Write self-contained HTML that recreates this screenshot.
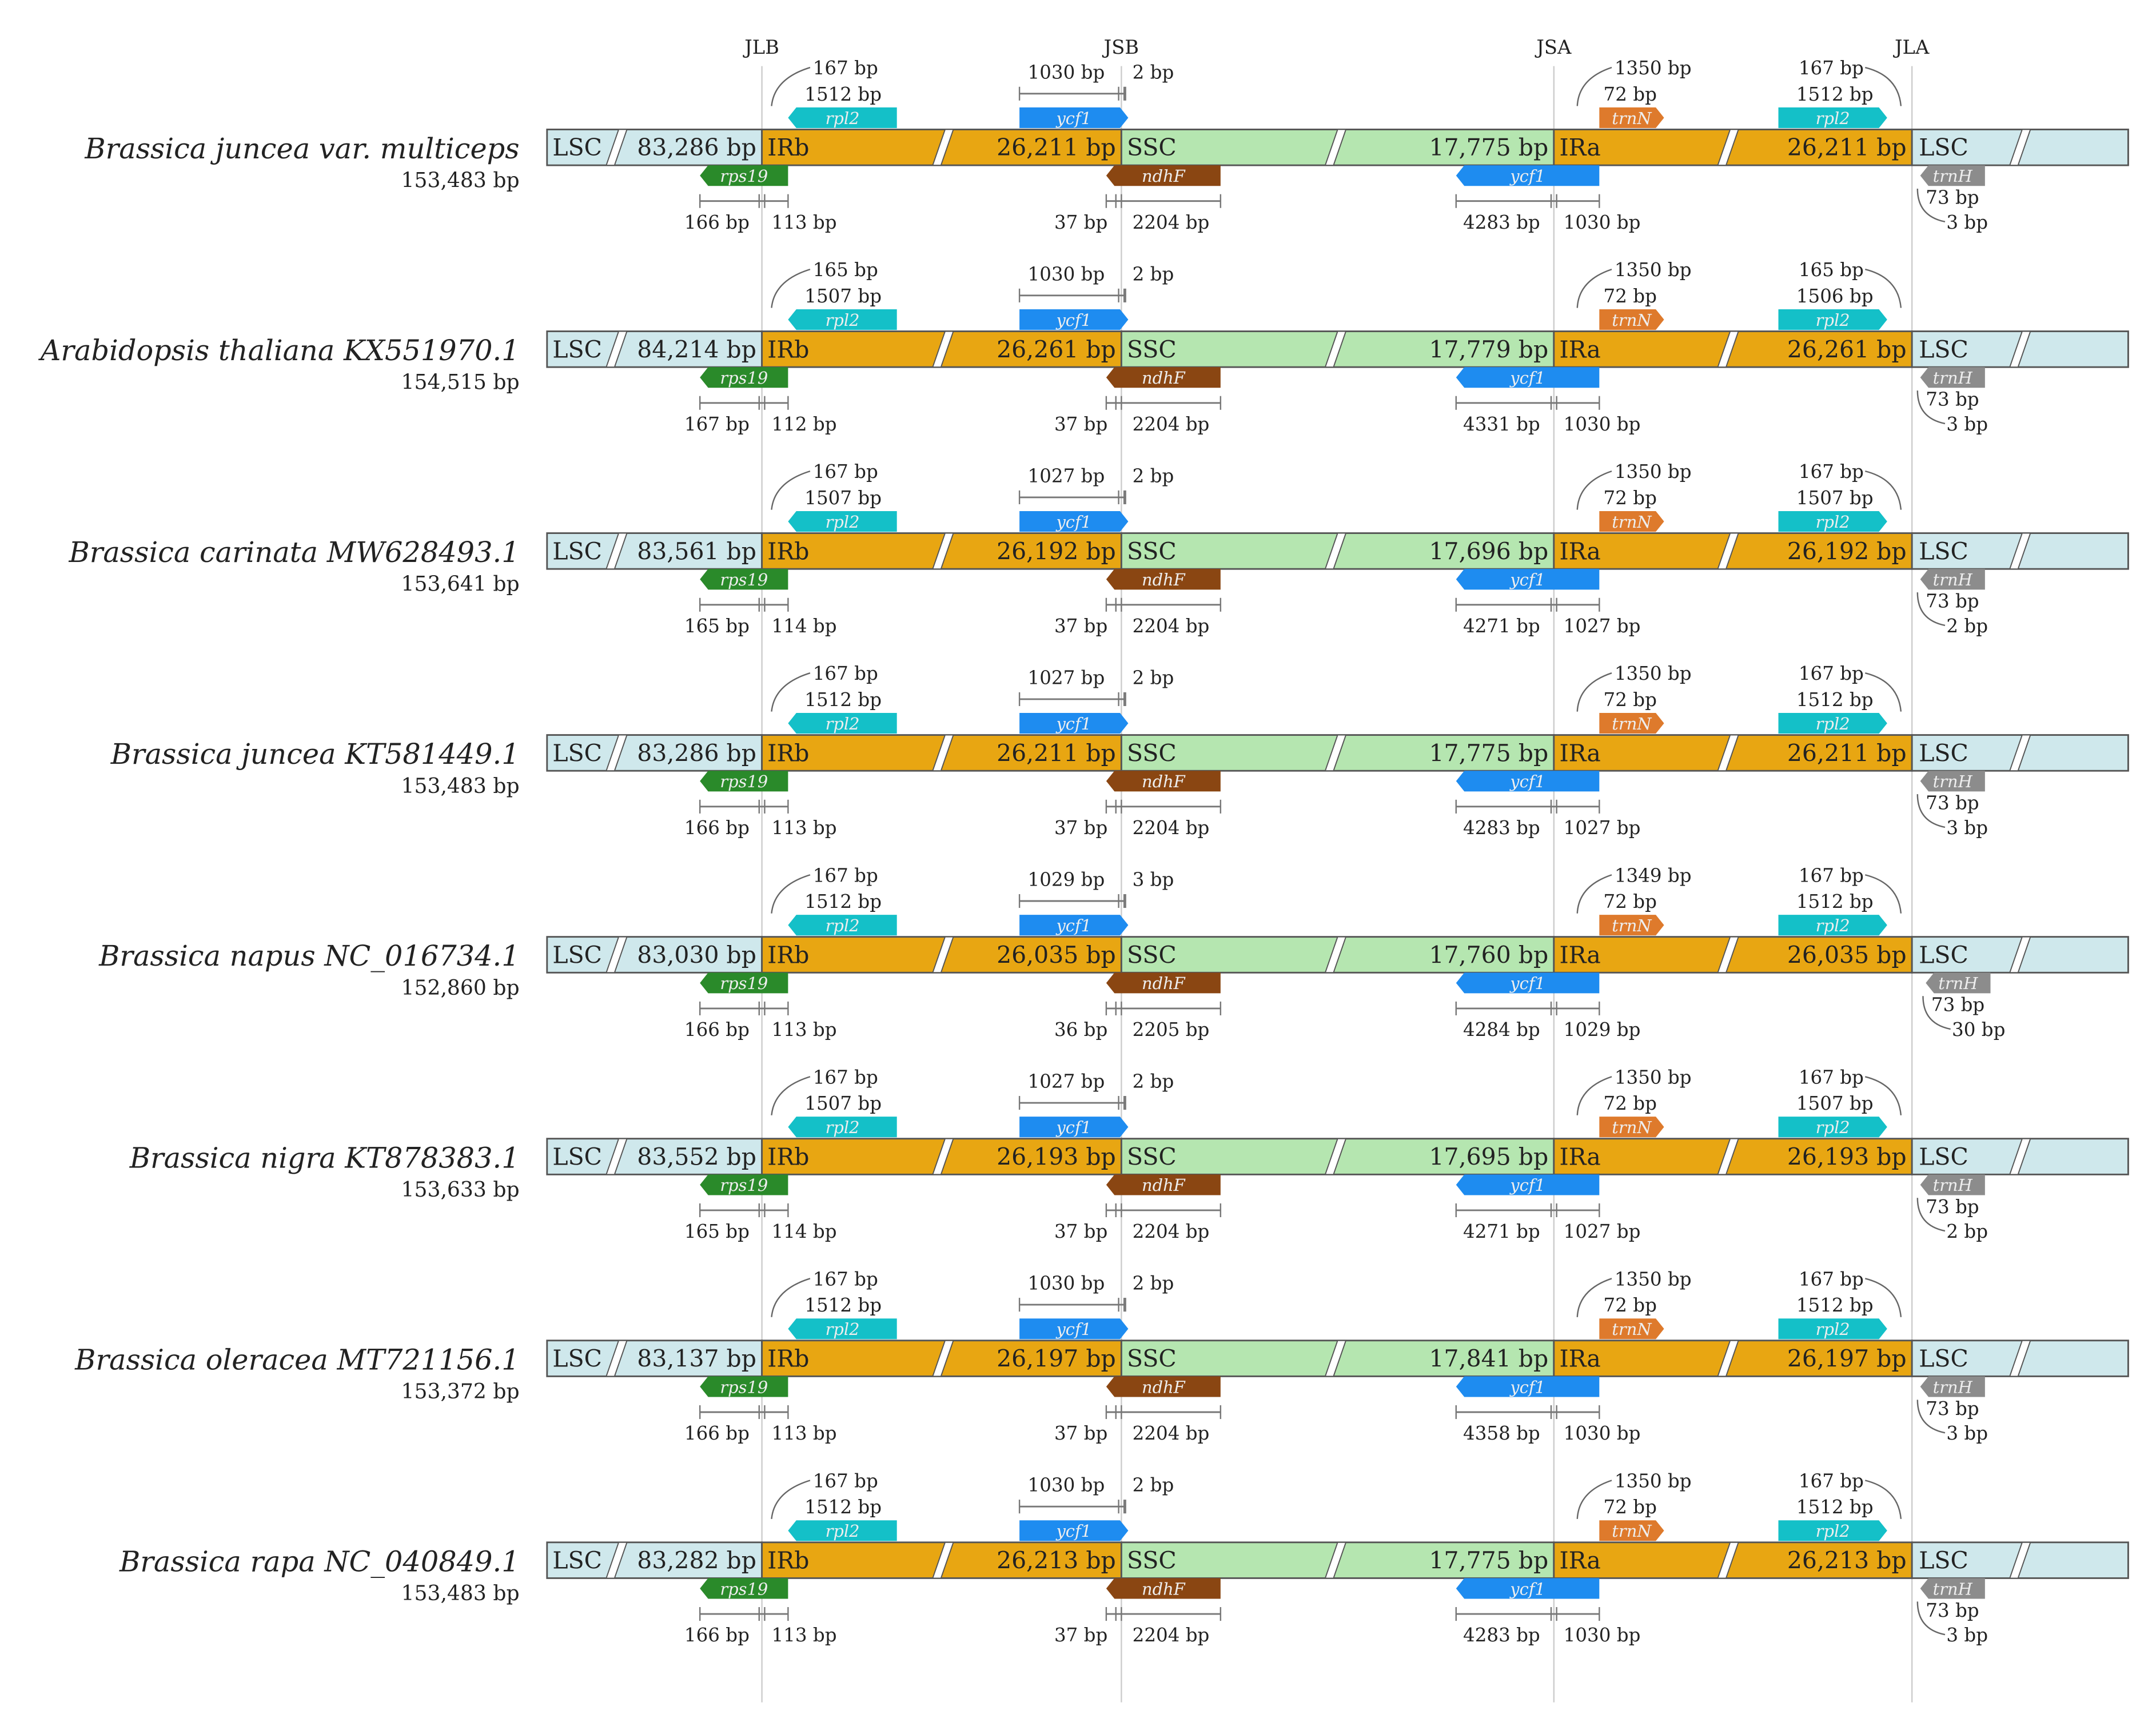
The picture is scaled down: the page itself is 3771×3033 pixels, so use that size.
<!DOCTYPE html>
<html><head><meta charset="utf-8"><style>
html,body{margin:0;padding:0;background:#fff}
svg{display:block}
text{font-family:"DejaVu Serif","Liberation Serif",serif;fill:#222}
</style></head><body>
<svg id="chart" width="3771" height="3033" viewBox="0 0 1565 1259" xmlns="http://www.w3.org/2000/svg"></svg>
<script>
const names=["Brassica juncea var. multiceps","Arabidopsis thaliana KX551970.1","Brassica carinata MW628493.1","Brassica juncea KT581449.1","Brassica napus NC_016734.1","Brassica nigra KT878383.1","Brassica oleracea MT721156.1","Brassica rapa NC_040849.1"];
const totals=["153,483","154,515","153,641","153,483","152,860","153,633","153,372","153,483"];
const lscLen=["83,286","84,214","83,561","83,286","83,030","83,552","83,137","83,282"];
const irLen=["26,211","26,261","26,192","26,211","26,035","26,193","26,197","26,213"];
const sscLen=["17,775","17,779","17,696","17,775","17,760","17,695","17,841","17,775"];
const rpl2bOut=[167,165,167,167,167,167,167,167];
const rpl2bLen=[1512,1507,1507,1512,1512,1507,1512,1512];
const ycf1bIn=[1030,1030,1027,1027,1029,1027,1030,1030];
const ycf1bOut=[2,2,2,2,3,2,2,2];
const rps19L=[166,167,165,166,166,165,166,166];
const rps19R=[113,112,114,113,113,114,113,113];
const ndhFL=[37,37,37,37,36,37,37,37];
const ndhFR=[2204,2204,2204,2204,2205,2204,2204,2204];
const ycf1aL=[4283,4331,4271,4283,4284,4271,4358,4283];
const ycf1aR=[1030,1030,1027,1027,1029,1027,1030,1030];
const trnNDist=[1350,1350,1350,1350,1349,1350,1350,1350];
const trnNIn=[72,72,72,72,72,72,72,72];
const rpl2aOut=[167,165,167,167,167,167,167,167];
const rpl2aLen=[1512,1506,1507,1512,1512,1507,1512,1512];
const trnHLen=[73,73,73,73,73,73,73,73];
const trnHDist=[3,3,2,3,30,2,3,3];
const junctions=["JLB","JSB","JSA","JLA"];

const svg=document.getElementById('chart');
const NS="http://www.w3.org/2000/svg";
function el(tag,attrs,parent){const e=document.createElementNS(NS,tag);for(const k in attrs)e.setAttribute(k,attrs[k]);(parent||svg).appendChild(e);return e;}
function txt(x,y,s,attrs,parent){const t=el('text',Object.assign({x:x,y:y},attrs||{}),parent);t.textContent=s;return t;}
const X0=397,X1=1545,JX=[553,814,1128,1388];
const rowY=i=>107+i*146.55;

JX.forEach((x,k)=>{
  const l=el('line',{x1:x,y1:48,x2:x,y2:1236,stroke:'#ccc','stroke-width':1});
  
  
  const t=txt(x,39,junctions[k],{'font-size':14,'text-anchor':'middle'});
  
  
});

function gene(x1,x2,y,dir,color,label,name,g){
  const h=15,p=6;let pts;
  if(dir<0)pts=`${x1},${y+h/2} ${x1+p},${y} ${x2},${y} ${x2},${y+h} ${x1+p},${y+h}`;
  else pts=`${x1},${y} ${x2-p},${y} ${x2},${y+h/2} ${x2-p},${y+h} ${x1},${y+h}`;
  const gg=el('g',{},g);
  
  
  el('polygon',{points:pts,fill:color},gg);
  txt((x1+x2)/2,y+12,label,{'font-size':12,'font-style':'italic','text-anchor':'middle',style:'fill:#eee'},gg);
}
function bracket(x1,xm,x2,y,g){
  el('line',{x1:x1,y1:y,x2:x2,y2:y,stroke:'#777','stroke-width':1.2},g);
  [x1,x2].forEach(x=>el('line',{x1:x,y1:y-5,x2:x,y2:y+5,stroke:'#777','stroke-width':1},g));
  el('line',{x1:xm-2,y1:y-5,x2:xm-2,y2:y+5,stroke:'#777','stroke-width':1},g);
  el('line',{x1:xm+2,y1:y-5,x2:xm+2,y2:y+5,stroke:'#777','stroke-width':1},g);
}
function slash(x,y,g){el('polygon',{points:`${x-3},${y+13} ${x+6},${y-13} ${x+12},${y-13} ${x+3},${y+13}`,fill:'#fff',stroke:'#555','stroke-width':0.8},g);}
function arc(d,g){el('path',{d:d,fill:'none',stroke:'#666','stroke-width':1},g);}

names.forEach((nm,i)=>{
  const y=rowY(i),top=y-13;
  const g=el('g',{});
  
  
  const n=txt(377,y+8,nm,{'font-size':20.5,'font-style':'italic','text-anchor':'end'},g);
  
  
  const tb=txt(377,y+29,totals[i]+' bp',{'font-size':15,'text-anchor':'end'},g);
  
  
  const segs=[[X0,JX[0],'#cfe8ec','lsc'],[JX[0],JX[1],'#e8a612','irb'],[JX[1],JX[2],'#b5e6b0','ssc'],[JX[2],JX[3],'#e8a612','ira'],[JX[3],X1,'#cfe8ec','lsc-right']];
  segs.forEach(s=>{
    const r=el('rect',{x:s[0],y:top,width:s[1]-s[0],height:26,fill:s[2],stroke:'#555','stroke-width':1.2},g);
    
    
  });
  [443,680,965,1250,1462].forEach(x=>slash(x,y,g));
  const fs={'font-size':17};
  txt(401,y+6,'LSC',fs,g);
  txt(549,y+6,lscLen[i]+' bp',Object.assign({'text-anchor':'end'},fs),g);
  txt(557,y+6,'IRb',fs,g);
  txt(810,y+6,irLen[i]+' bp',Object.assign({'text-anchor':'end'},fs),g);
  txt(818,y+6,'SSC',fs,g);
  txt(1124,y+6,sscLen[i]+' bp',Object.assign({'text-anchor':'end'},fs),g);
  txt(1132,y+6,'IRa',fs,g);
  txt(1384,y+6,irLen[i]+' bp',Object.assign({'text-anchor':'end'},fs),g);
  txt(1393,y+6,'LSC',fs,g);
  gene(572,651,top-16,-1,'#14c0c8','rpl2','gene-rpl2-irb',g);
  gene(740,819,top-16,1,'#1e8cf0','ycf1','gene-ycf1-irb',g);
  gene(1161,1208,top-16,1,'#de7a2c','trnN','gene-trnN',g);
  gene(1291,1370,top-16,1,'#14c0c8','rpl2','gene-rpl2-ira',g);
  gene(508,572,y+13,-1,'#2a8a2a','rps19','gene-rps19',g);
  gene(803,886,y+13,-1,'#8a4612','ndhF','gene-ndhF',g);
  gene(1057,1161,y+13,-1,'#1e8cf0','ycf1','gene-ycf1-ssc',g);
  const tx=i===4?1398:1394;
  gene(tx,tx+47,y+13,-1,'#8c8c8c','trnH','gene-trnH',g);
  const as={'font-size':13.5};
  arc(`M560,${y-30} Q562,${y-50} 588,${y-58}`,g);
  txt(590,y-53,rpl2bOut[i]+' bp',as,g);
  txt(584,y-34,rpl2bLen[i]+' bp',as,g);
  txt(746,y-50,ycf1bIn[i]+' bp',as,g);
  bracket(740,814,817,y-39,g);
  txt(822,y-50,ycf1bOut[i]+' bp',as,g);
  arc(`M1145,${y-30} Q1146,${y-50} 1170,${y-58}`,g);
  txt(1172,y-53,trnNDist[i]+' bp',as,g);
  txt(1164,y-34,trnNIn[i]+' bp',as,g);
  arc(`M1380,${y-30} Q1378,${y-52} 1354,${y-58}`,g);
  txt(1353,y-53,rpl2aOut[i]+' bp',Object.assign({'text-anchor':'end'},as),g);
  txt(1304,y-34,rpl2aLen[i]+' bp',as,g);
  bracket(508,553,572,y+39,g);
  txt(544,y+59,rps19L[i]+' bp',Object.assign({'text-anchor':'end'},as),g);
  txt(560,y+59,rps19R[i]+' bp',as,g);
  bracket(803,812,886,y+39,g);
  txt(804,y+59,ndhFL[i]+' bp',Object.assign({'text-anchor':'end'},as),g);
  txt(822,y+59,ndhFR[i]+' bp',as,g);
  bracket(1057,1128,1161,y+39,g);
  txt(1118,y+59,ycf1aL[i]+' bp',Object.assign({'text-anchor':'end'},as),g);
  txt(1135,y+59,ycf1aR[i]+' bp',as,g);
  txt(tx+4,y+41,trnHLen[i]+' bp',as,g);
  arc(`M${tx-2},${y+30} Q${tx-2},${y+50} ${tx+18},${y+54}`,g);
  txt(tx+19,y+59,trnHDist[i]+' bp',as,g);
});
</script>
</body></html>
